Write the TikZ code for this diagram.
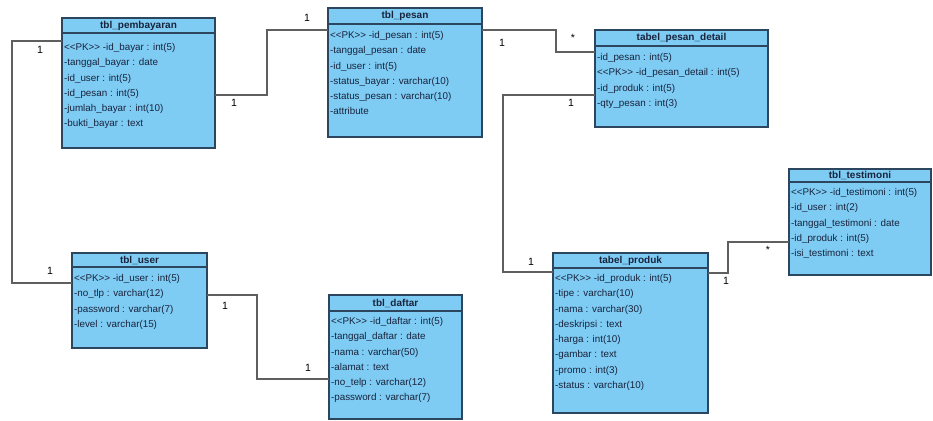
\documentclass[tikz,border=0pt]{standalone}
\usepackage{fontspec}
\setmainfont{Liberation Sans}
\usetikzlibrary{calc,positioning}
\definecolor{tblblue}{RGB}{126,204,244}
\definecolor{tblborder}{RGB}{45,70,95}
\definecolor{tbltext}{RGB}{25,35,60}
\definecolor{linkgray}{RGB}{95,95,95}
\def\px{0.02cm}
\def\pk{<\kern0pt<PK>\kern0pt>}
\tikzset{
  tbl_box/.style={draw=tblborder, line width=0.8pt, fill=tblblue, rectangle, inner sep=0pt, outer sep=0pt, anchor=north west},
  tbl_title/.style={font=\fontsize{5.7}{7}\selectfont\bfseries, text=tbltext, inner sep=0pt},
  tbl_rows/.style={font=\fontsize{5.6}{8.7}\selectfont, text=tbltext, align=left, anchor=north west, inner xsep=1pt, inner ysep=0pt},
  tbl_line/.style={draw=tblborder, line width=0.6pt},
  link/.style={draw=linkgray, line width=0.8pt},
  mult/.style={font=\fontsize{6}{7}\selectfont, inner sep=0pt}
}

\begin{document}
\begin{tikzpicture}[x=0.02cm, y=-0.02cm]
  \useasboundingbox (0,0) rectangle (933,420);

  \node[tbl_box, minimum width=153*\px, minimum height=130*\px] (pembayaran) at (62,18) {};
  \node[tbl_title] (pembayaran-t) at ([yshift=-7.5*\px]pembayaran.north) {tbl\_pembayaran};
  \draw[tbl_line] ([yshift=-15*\px]pembayaran.north west) -- ([yshift=-15*\px]pembayaran.north east);
  \node[tbl_rows] (pembayaran-r) at ([yshift=-25*\px]pembayaran.north west) {\pk{} -id\_bayar : int(5)\\-tanggal\_bayar : date\\-id\_user : int(5)\\-id\_pesan : int(5)\\-jumlah\_bayar : int(10)\\-bukti\_bayar : text};

  \node[tbl_box, minimum width=154*\px, minimum height=129*\px] (pesan) at (328,8) {};
  \node[tbl_title] (pesan-t) at ([yshift=-8*\px]pesan.north) {tbl\_pesan};
  \draw[tbl_line] ([yshift=-16*\px]pesan.north west) -- ([yshift=-16*\px]pesan.north east);
  \node[tbl_rows] (pesan-r) at ([yshift=-23*\px]pesan.north west) {\pk{} -id\_pesan : int(5)\\-tanggal\_pesan : date\\-id\_user : int(5)\\-status\_bayar : varchar(10)\\-status\_pesan : varchar(10)\\-attribute};

  \node[tbl_box, minimum width=173*\px, minimum height=97*\px] (detail) at (595,30) {};
  \node[tbl_title] (detail-t) at ([yshift=-8*\px]detail.north) {tabel\_pesan\_detail};
  \draw[tbl_line] ([yshift=-16*\px]detail.north west) -- ([yshift=-16*\px]detail.north east);
  \node[tbl_rows] (detail-r) at ([yshift=-23*\px]detail.north west) {-id\_pesan : int(5)\\\pk{} -id\_pesan\_detail : int(5)\\-id\_produk : int(5)\\-qty\_pesan : int(3)};

  \node[tbl_box, minimum width=135*\px, minimum height=95*\px] (user) at (72,253) {};
  \node[tbl_title] (user-t) at ([yshift=-7*\px]user.north) {tbl\_user};
  \draw[tbl_line] ([yshift=-14*\px]user.north west) -- ([yshift=-14*\px]user.north east);
  \node[tbl_rows] (user-r) at ([yshift=-21*\px]user.north west) {\pk{} -id\_user : int(5)\\-no\_tlp : varchar(12)\\-password : varchar(7)\\-level : varchar(15)};

  \node[tbl_box, minimum width=133*\px, minimum height=124*\px] (daftar) at (329,295) {};
  \node[tbl_title] (daftar-t) at ([yshift=-8*\px]daftar.north) {tbl\_daftar};
  \draw[tbl_line] ([yshift=-16*\px]daftar.north west) -- ([yshift=-16*\px]daftar.north east);
  \node[tbl_rows] (daftar-r) at ([yshift=-22*\px]daftar.north west) {\pk{} -id\_daftar : int(5)\\-tanggal\_daftar : date\\-nama : varchar(50)\\-alamat : text\\-no\_telp : varchar(12)\\-password : varchar(7)};

  \node[tbl_box, minimum width=155*\px, minimum height=160*\px] (produk) at (553,253) {};
  \node[tbl_title] (produk-t) at ([yshift=-7.5*\px]produk.north) {tabel\_produk};
  \draw[tbl_line] ([yshift=-15*\px]produk.north west) -- ([yshift=-15*\px]produk.north east);
  \node[tbl_rows] (produk-r) at ([yshift=-21*\px]produk.north west) {\pk{} -id\_produk : int(5)\\-tipe : varchar(10)\\-nama : varchar(30)\\-deskripsi : text\\-harga : int(10)\\-gambar : text\\-promo : int(3)\\-status : varchar(10)};

  \node[tbl_box, minimum width=142*\px, minimum height=106*\px] (testimoni) at (789,169) {};
  \node[tbl_title] (testimoni-t) at ([yshift=-6.5*\px]testimoni.north) {tbl\_testimoni};
  \draw[tbl_line] ([yshift=-13*\px]testimoni.north west) -- ([yshift=-13*\px]testimoni.north east);
  \node[tbl_rows] (testimoni-r) at ([yshift=-19*\px]testimoni.north west) {\pk{} -id\_testimoni : int(5)\\-id\_user : int(2)\\-tanggal\_testimoni : date\\-id\_produk : int(5)\\-isi\_testimoni : text};

  \draw[link] ([yshift=-23*\px]pembayaran.north west) -- ++(-50,0) |- ([yshift=-30*\px]user.north west);
  \draw[link] ([yshift=-77*\px]pembayaran.north east) -- ++(52,0) |- ([yshift=-22*\px]pesan.north west);
  \draw[link] ([yshift=-22*\px]pesan.north east) -- ++(74,0) |- ([yshift=-22*\px]detail.north west);
  \draw[link] ([yshift=-65*\px]detail.north west) -- ++(-92,0) |- ([yshift=-19*\px]produk.north west);
  \draw[link] ([yshift=-20*\px]produk.north east) -- ++(20,0) |- ([yshift=-73*\px]testimoni.north west);
  \draw[link] ([yshift=-42*\px]user.north east) -- ++(50,0) |- ([yshift=-84*\px]daftar.north west);

  \foreach \x/\y/\t [count=\i] in {40/50/1, 50/271/1, 234/103/1, 307/18/1, 502/43/1, 573/38/*,
      571/103/1, 531/262/1, 726/281/1, 768/250/*, 225/306/1, 308/368/1}
  {
    \node[mult] (m\i) at (\x,\y) {\t};
  }
\end{tikzpicture}
\end{document}
